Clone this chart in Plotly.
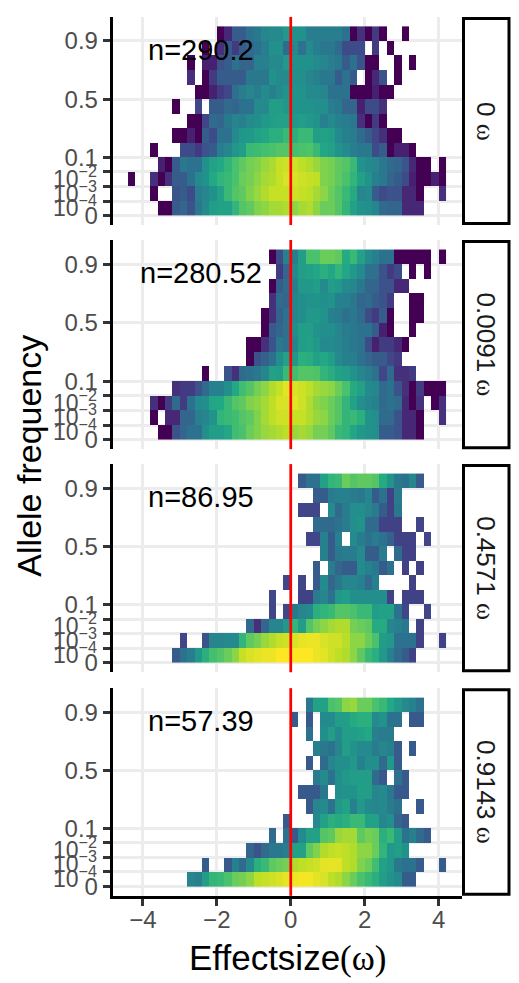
import plotly.graph_objects as go

N = None
X_BINS = [-4.3, -4.1, -3.9, -3.7, -3.5, -3.3, -3.1, -2.9, -2.7, -2.5, -2.3, -2.1, -1.9, -1.7, -1.5,
          -1.3, -1.1, -0.9, -0.7, -0.5, -0.3, -0.1, 0.1, 0.3, 0.5, 0.7, 0.9, 1.1, 1.3, 1.5, 1.7,
          1.9, 2.1, 2.3, 2.5, 2.7, 2.9, 3.1, 3.3, 3.5, 3.7, 3.9, 4.1]
Y_ROWS = [0.5, 1.5, 2.5, 3.5, 4.5, 5.5, 6.5, 7.5, 8.5, 9.5, 10.5, 11.5, 12.5]
Y_TICKS = [0, 1, 2, 3, 4, 8, 12]
Y_LABELS = ["0", "", "", "", "0.1", "0.5", "0.9"]
POWER_TICKS = [1, 2, 3]
POWER_LABELS = ["10<sup>−4</sup>", "10<sup>−3</sup>", "10<sup>−2</sup>"]
X_TICKS = [-4, -2, 0, 2, 4]
X_LABELS = ["−4", "−2", "0", "2", "4"]
STRIPS = ["0", "0.0091", "0.4571", "0.9143"]
COUNTS = ["n=290.2", "n=280.52", "n=86.95", "n=57.39"]
COLOURS = [[0, "#440154"], [0.09, "#482475"], [0.175, "#414487"], [0.26, "#355f8d"], [0.35, "#2a788e"],
           [0.45, "#21918c"], [0.55, "#22a884"], [0.65, "#44bf70"], [0.75, "#7ad151"], [0.86, "#bddf26"],
           [1, "#fde725"]]

# density level per cell, rows listed from allele frequency 0 upward
P1 = [
 [N]*4+[0,0,25,28,22,35,42,50,52,52,60,68,70,76,78,82,82,84,78,82,84,78,72,72,68,60,52,46,44,40,30,28,28,10,10,10],
 [N]*3+[0,N,N,22,25,20,37,40,45,52,62,68,70,76,80,84,88,88,88,90,88,86,82,78,72,68,62,56,40,42,25,20,22,22,10,10,0,N,N,12],
 [0,N,N,12,0,12,25,25,33,42,45,55,60,62,66,72,74,78,82,84,88,92,92,90,88,86,76,74,70,66,60,52,46,38,35,28,25,20,8,0,0,8,0],
 [N]*4+[8,0,25,35,33,33,45,52,55,60,66,70,74,76,80,83,88,90,90,86,84,80,76,74,70,68,62,46,42,40,35,30,28,23,10,0,0,N,0],
 [N]*3+[0,N,N,N,20,20,15,22,25,37,40,47,50,62,63,65,66,68,68,65,66,67,62,54,52,46,42,37,35,35,20,25,0,8,8,0],
 [N]*6+[0,0,8,0,25,20,33,33,42,47,48,52,54,58,58,62,58,62,62,50,52,50,42,38,36,30,25,18,12,0,0],
 [N]*8+[0,0,18,30,28,35,40,38,42,44,48,50,52,52,48,50,48,46,38,42,38,36,35,12,0,15,0],
 [N]*6+[0,N,N,18,N,25,25,30,28,33,33,42,42,50,50,47,46,46,46,44,44,37,35,28,28,8,20,20,12],
 [N]*9+[0,0,8,15,18,33,37,40,37,42,38,42,46,46,46,42,42,40,33,33,33,0,0,0,8,0,0],
 [N]*8+[12,N,0,15,25,25,25,25,35,35,35,45,42,42,44,44,40,38,35,35,25,33,25,N,0,10,22,N,0],
 [N]*8+[0,N,8,8,22,25,33,28,28,38,38,42,42,48,45,45,45,42,40,37,35,25,33,22,0,0,N,N,0,N,0],
 [N]*10+[0,N,12,25,15,25,30,33,37,45,45,30,42,33,42,37,35,35,30,20,20,20,N,15,N,0],
 [N]*12+[0,10,25,25,33,35,40,42,42,48,45,45,37,37,37,37,37,33,0,12,0,15,0,N,N,0],
]
P2 = [
 [N]*4+[0,0,22,28,33,33,44,50,50,54,64,66,72,76,80,82,84,86,80,82,80,74,74,70,62,60,54,48,46,44,25,25,22,10,10,0],
 [N]*3+[0,N,10,10,28,28,38,40,46,60,62,64,68,70,76,82,86,90,90,88,88,84,80,78,72,68,60,62,58,46,44,30,30,22,10,10,0,N,N,12],
 [N]*3+[12,0,15,30,15,33,42,44,54,55,62,68,70,76,78,82,86,92,92,94,90,84,78,76,72,68,60,52,44,40,38,30,33,30,10,0,12,N,0,12],
 [N]*6+[12,15,15,22,30,38,38,44,55,64,68,74,78,84,88,94,92,90,86,82,80,78,72,66,56,52,42,40,30,33,22,12,0,15,0,0,0],
 [N]*10+[0,N,N,22,12,30,33,35,40,52,50,62,64,68,68,67,60,57,52,50,46,40,37,33,18,30,12,12,15],
 [N]*16+[0,22,27,33,44,52,48,58,57,52,55,50,42,38,37,33,28,25,25,18,15],
 [N]*16+[0,0,12,22,35,33,40,50,52,48,42,42,40,37,35,33,20,8,15,15,10,0],
 [N]*18+[0,25,28,32,44,50,50,46,44,44,40,36,35,33,33,25,8,0,N,N,0],
 [N]*18+[0,12,27,33,40,44,48,48,46,38,36,33,35,30,20,15,25,0,N,N,0,0],
 [N]*19+[12,30,28,40,44,46,46,44,46,38,38,35,28,30,25,22,15,N,N,0,0],
 [N]*19+[0,25,30,38,48,48,50,42,50,48,42,40,35,28,28,22,22,10,10],
 [N]*20+[15,28,42,50,52,54,58,54,60,54,48,42,33,32,22,15,20,N,0,N,0],
 [N]*19+[0,20,38,37,50,66,66,72,72,70,56,62,52,42,38,33,33,0,0,0,0,0,N,0],
]
P3 = [
 [N]*6+[25,33,37,48,58,65,68,72,78,88,92,94,96,96,100,100,100,100,100,96,94,90,86,84,78,70,62,58,48,38,30,25,17],
 [N]*7+[18,N,N,22,40,40,42,42,60,70,74,80,84,88,90,92,95,96,96,92,90,90,85,78,78,72,66,50,48,33,33,33,17,N,N,17],
 [N]*16+[30,12,28,40,40,48,60,50,68,74,78,82,84,84,74,72,70,56,56,40,38,35,N,17],
 [N]*19+[18,N,18,35,40,42,58,60,62,68,68,66,62,62,50,52,52,33,18,N,N,18],
 [N]*19+[18,N,N,N,17,17,36,40,33,48,50,44,44,44,44,44,17,N,17,17,17],
 [N]*21+[18,N,18,N,25,42,28,35,40,40,38,30,38,N,N,N,N,17],
 [N]*25+[25,N,36,28,25,25,42,38,35,25,33,N,17,N,17],
 [N]*26+[38,25,35,36,36,42,25,25,36,N,30,17,17],
 [N]*24+[18,18,38,25,38,N,42,36,33,36,33,27,17,17,17,N,18],
 [N]*25+[30,30,30,33,36,44,46,30,30,17,17,17,N,N,18],
 [N]*23+[18,18,18,N,42,30,36,44,44,40,36,25,17,35],
 [N]*25+[25,25,36,38,38,36,35,40,25,33,17,36],
 [N]*23+[25,33,33,52,60,62,72,68,70,70,68,56,46,35,33,40,25],
]
P4 = [
 [N]*8+[40,38,50,60,62,66,72,74,78,86,88,90,92,95,97,98,98,94,92,86,84,78,72,66,62,58,50,46,42,25,25],
 [N]*10+[25,N,N,24,38,30,42,58,62,70,72,74,84,86,88,90,94,95,94,86,84,76,72,64,52,48,35,33,33,25,N,N,25],
 [N]*16+[28,22,30,35,35,37,52,52,70,76,84,86,88,86,84,78,78,72,60,48,50,46],
 [N]*19+[30,N,33,24,42,52,52,68,70,80,82,82,70,74,72,58,62,50,33,38,30,25],
 [N]*21+[24,N,N,N,42,52,58,56,58,62,62,52,52,40,44,28,24],
 [N]*24+[24,40,42,33,48,52,38,48,42,40,42,36,33,N,N,24],
 [N]*23+[24,24,24,35,N,44,46,46,50,50,40,42,35,24,24],
 [N]*25+[36,42,33,44,48,50,50,50,30,24,N,33,24],
 [N]*24+[24,N,30,40,44,44,48,38,44,44,30,48,25],
 [N]*25+[38,35,33,40,50,46,42,42,36,40,38,25,N,24],
 [N]*24+[33,N,44,50,42,50,50,52,55,38,36,36],
 [N]*22+[25,N,24,N,42,42,50,50,56,58,58,42,46,33,33,N,24,24],
 [N]*24+[35,52,52,66,68,78,80,72,72,66,62,55,48,42,38,33],
]
PANELS = [P1, P2, P3, P4]

W, H = 519, 983
LEFT, RIGHT = 112.5, 462.0
TOPS = [17, 241, 466, 691]
BOTTOMS = [226, 451, 675, 899.5]
TICK_FONT = dict(family="Liberation Sans", size=24, color="#4d4d4d")
POWER_FONT = dict(family="Liberation Sans", size=23, color="#4d4d4d")
SERIF = "<span style=\"font-family:'Liberation Serif'\">ω</span>"


def px(x):
    return x / W


def py(y):
    return 1 - y / H


fig = go.Figure()
shapes, notes = [], []
layout = {}
for k, rows in enumerate(PANELS):
    suffix = "" if k == 0 else str(k + 1)
    z = [r + [N] * (len(X_BINS) - len(r)) for r in rows]
    fig.add_trace(go.Heatmap(x=X_BINS, y=Y_ROWS, z=z, colorscale=COLOURS, zmin=0, zmax=100,
                             showscale=False, hoverongaps=False,
                             xaxis="x" + suffix, yaxis="y" + suffix))
    last = k == len(PANELS) - 1
    layout["xaxis" + suffix] = dict(
        domain=[px(LEFT), px(RIGHT)], range=[-4.82, 4.63], anchor="y" + suffix,
        tickvals=X_TICKS, ticktext=X_LABELS, showticklabels=last, tickfont=TICK_FONT,
        ticks="outside" if last else "", ticklen=7, tickwidth=2.5, tickcolor="#333333",
        ticklabelstandoff=-6,
        showgrid=True, gridcolor="#ececec", gridwidth=2.5, zeroline=False,
        showline=last, linecolor="black", linewidth=2.5)
    layout["yaxis" + suffix] = dict(
        domain=[py(BOTTOMS[k]), py(TOPS[k])], range=[-0.65, 13.65], anchor="x" + suffix,
        tickvals=Y_TICKS, ticktext=Y_LABELS, tickfont=TICK_FONT,
        ticks="outside", ticklen=7, tickwidth=2.5, tickcolor="#333333",
        showgrid=True, gridcolor="#ececec", gridwidth=2.5, zeroline=False,
        showline=True, linecolor="black", linewidth=2.5)
    shapes.append(dict(type="line", xref="x" + suffix, yref="y" + suffix + " domain",
                       x0=0, x1=0, y0=0, y1=1, line=dict(color="red", width=2.7), layer="above"))
    shapes.append(dict(type="rect", xref="paper", yref="paper",
                       x0=px(463.5), x1=px(509), y0=py(BOTTOMS[k] - 1.5), y1=py(TOPS[k] + 1.5),
                       fillcolor="white", line=dict(color="black", width=3)))
    notes.append(dict(x=-2.42, y=11.4, xref="x" + suffix, yref="y" + suffix, text=COUNTS[k],
                      showarrow=False, xanchor="center", yanchor="middle",
                      font=dict(family="Liberation Sans", size=29, color="black")))
    notes.append(dict(x=px(486), y=py((TOPS[k] + BOTTOMS[k]) / 2), xref="paper", yref="paper",
                      text=f"{STRIPS[k]} {SERIF}", textangle=90, showarrow=False,
                      xanchor="center", yanchor="middle",
                      font=dict(family="Liberation Sans", size=26, color="#1a1a1a")))
    for tick, label in zip(POWER_TICKS, POWER_LABELS):
        notes.append(dict(x=px(99), y=tick, xref="paper", yref="y" + suffix, text=label,
                          showarrow=False, xanchor="right", yanchor="middle", yshift=-5,
                          font=POWER_FONT))

notes.append(dict(x=px(29.5), y=py(458), xref="paper", yref="paper", text="Allele frequency",
                  textangle=-90, showarrow=False, xanchor="center", yanchor="middle",
                  font=dict(family="Liberation Sans", size=34, color="black")))
notes.append(dict(x=px(287), y=py(962), xref="paper", yref="paper",
                  text="Effectsize<span style=\"font-family:'Liberation Serif'\">(ω)</span>",
                  showarrow=False, xanchor="center", yanchor="middle",
                  font=dict(family="Liberation Sans", size=35, color="black")))

fig.update_layout(width=W, height=H, margin=dict(l=0, r=0, t=0, b=0),
                  paper_bgcolor="white", plot_bgcolor="white", showlegend=False,
                  shapes=shapes, annotations=notes, **layout)
fig.write_html("out.html", config={"displayModeBar": False},
               post_script="document.body.style.margin='0';document.documentElement.style.overflow='hidden';")
